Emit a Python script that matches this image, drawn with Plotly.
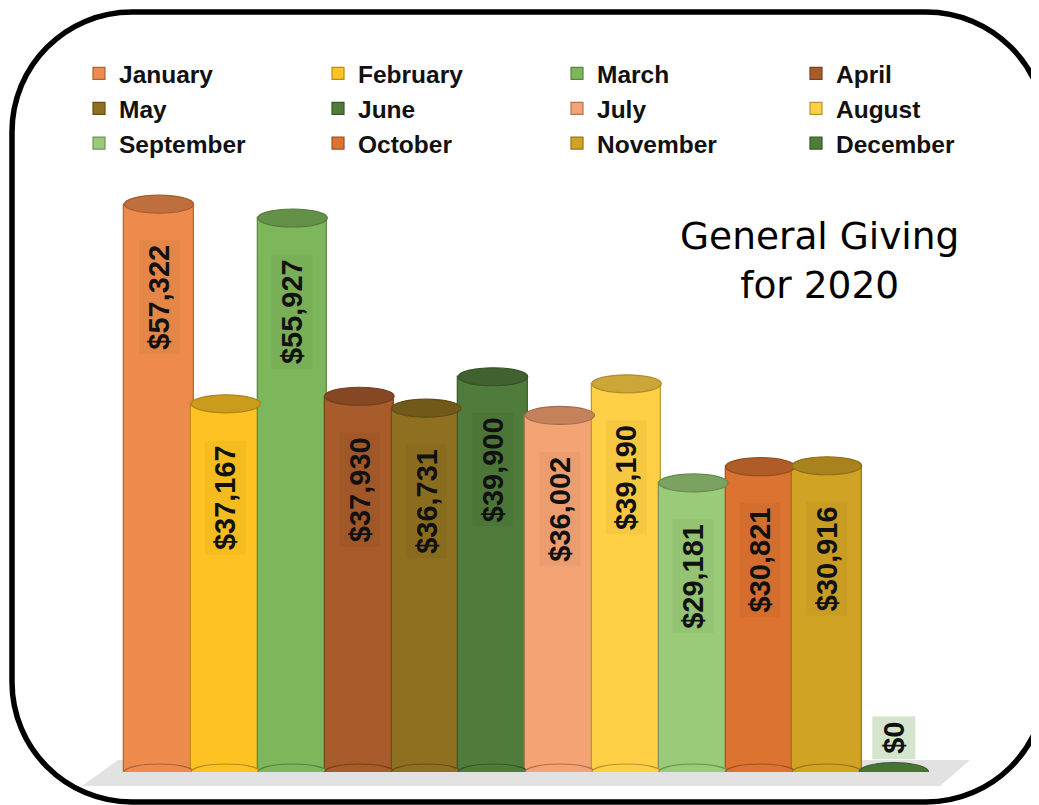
import plotly.graph_objects as go

months = ["January", "February", "March", "April", "May", "June",
          "July", "August", "September", "October", "November", "December"]
values = [57322, 37167, 55927, 37930, 36731, 39900,
          36002, 39190, 29181, 30821, 30916, 0]
labels = ["$57,322", "$37,167", "$55,927", "$37,930", "$36,731", "$39,900",
          "$36,002", "$39,190", "$29,181", "$30,821", "$30,916", "$0"]
body_colors = ["#EE8B4C", "#FEC322", "#7DB65B", "#A85B2B", "#8E7020", "#4F7B3B",
               "#F4A374", "#FFD045", "#99CB78", "#DC7330", "#D1A325", "#4E7D3A"]
title_text = "General Giving<br>for 2020"

# the page body has an 8px margin: figure is sized to fit the 1039x805 window
OFF = 8
W, H = 1039 - OFF, 805 - OFF


def px(p):
    return (p - OFF) / W


def py(p):
    return 1 - (p - OFF) / H


def darker(hexc, f):
    hexc = hexc.lstrip("#")
    r, g, b = (int(hexc[i:i + 2], 16) for i in (0, 2, 4))
    return "#%02X%02X%02X" % (int(r * f), int(g * f), int(b * f))


# axis geometry (window pixels)
c0, pitch = 159.0, 66.8
base_px, scale = 772.0, 9.906 / 1000.0
xr = [-0.6, 11.6]
yr = [0, 60000]
x_dom = [px(c0 + xr[0] * pitch), px(c0 + xr[1] * pitch)]
y_dom = [py(base_px), py(base_px - yr[1] * scale)]

bw = 1.04
fig = go.Figure()
for i, (m, v, c) in enumerate(zip(months, values, body_colors)):
    fig.add_trace(go.Bar(
        x=[m], y=[v], name=m, width=bw,
        marker=dict(color=c, line=dict(color=darker(c, 0.72), width=1.2)),
        hovertemplate="%{x}: %{y:$,.0f}<extra></extra>",
    ))

shapes = []
# floor
fx = [118, 970, 940, 82]
fy = [760, 760, 786, 786]
path = "M %f %f L %f %f L %f %f L %f %f Z" % (
    px(fx[0]), py(fy[0]), px(fx[1]), py(fy[1]), px(fx[2]), py(fy[2]), px(fx[3]), py(fy[3]))
shapes.append(dict(type="path", xref="paper", yref="paper", path=path,
                   fillcolor="#E2E2E2", line=dict(width=0), layer="below"))

for i, (v, c) in enumerate(zip(values, body_colors)):
    # bottom ellipse
    shapes.append(dict(type="circle", xref="x", yref="y", ysizemode="pixel",
                       yanchor=0, x0=i - bw / 2, x1=i + bw / 2,
                       y0=-8 if v > 0 else -9.5, y1=8 if v > 0 else 9.5,
                       fillcolor=c if v > 0 else darker(c, 0.92),
                       line=dict(color=darker(c, 0.72), width=1.2), layer="above"))
    if v > 0:
        shapes.append(dict(type="circle", xref="x", yref="y", ysizemode="pixel",
                           yanchor=v, x0=i - bw / 2, x1=i + bw / 2, y0=-9, y1=9,
                           fillcolor=darker(c, 0.8),
                           line=dict(color=darker(c, 0.68), width=1.2), layer="above"))

# rounded frame
L, T, R, B, r = 12, 12, 1046, 802, 120
k = 0.5523 * r
pts = [
    ("M", [(L + r, T)]),
    ("L", [(R - r, T)]),
    ("C", [(R - r + k, T), (R, T + r - k), (R, T + r)]),
    ("L", [(R, B - r)]),
    ("C", [(R, B - r + k), (R - r + k, B), (R - r, B)]),
    ("L", [(L + r, B)]),
    ("C", [(L + r - k, B), (L, B - r + k), (L, B - r)]),
    ("L", [(L, T + r)]),
    ("C", [(L, T + r - k), (L + r - k, T), (L + r, T)]),
]
d = " ".join(cmd + " " + " ".join("%f,%f" % (px(a), py(b)) for a, b in p) for cmd, p in pts) + " Z"
shapes.append(dict(type="path", xref="paper", yref="paper", path=d,
                   line=dict(color="black", width=5.5), fillcolor="rgba(0,0,0,0)", layer="above"))

label_font = dict(family="Liberation Sans", size=29, color="#111111", weight="bold")
annotations = []
for i, (v, lab) in enumerate(zip(values, labels)):
    if v > 0:
        annotations.append(dict(x=i, y=v, xref="x", yref="y", text=lab, textangle=-90,
                                showarrow=False, yanchor="top", yshift=-36,
                                font=label_font,
                                bgcolor="rgba(0,0,0,0.035)", borderpad=4))
    else:
        annotations.append(dict(x=i, y=v, xref="x", yref="y", text=lab, textangle=-90,
                                showarrow=False, yanchor="bottom", yshift=12,
                                font=label_font,
                                bgcolor="#D5E5CD", borderpad=5))

annotations.append(dict(x=px(819), y=py(260), xref="paper", yref="paper", text=title_text,
                        showarrow=False, xanchor="center", yanchor="middle",
                        font=dict(family="DejaVu Sans", size=37.5, color="black")))

fig.update_layout(
    width=W, height=H,
    margin=dict(l=0, r=0, t=0, b=0),
    paper_bgcolor="white", plot_bgcolor="rgba(0,0,0,0)",
    barmode="overlay", bargap=0,
    showlegend=True,
    legend=dict(orientation="h", x=px(79), y=py(51), xanchor="left", yanchor="top",
                entrywidth=194, traceorder="normal",
                font=dict(family="Liberation Sans", size=24.5, color="#111111", weight="bold"),
                bgcolor="rgba(0,0,0,0)", itemclick=False),
    xaxis=dict(domain=x_dom, range=xr, visible=False, type="category"),
    yaxis=dict(domain=y_dom, range=yr, visible=False),
    shapes=shapes, annotations=annotations,
)

fig.write_html("out.html")
